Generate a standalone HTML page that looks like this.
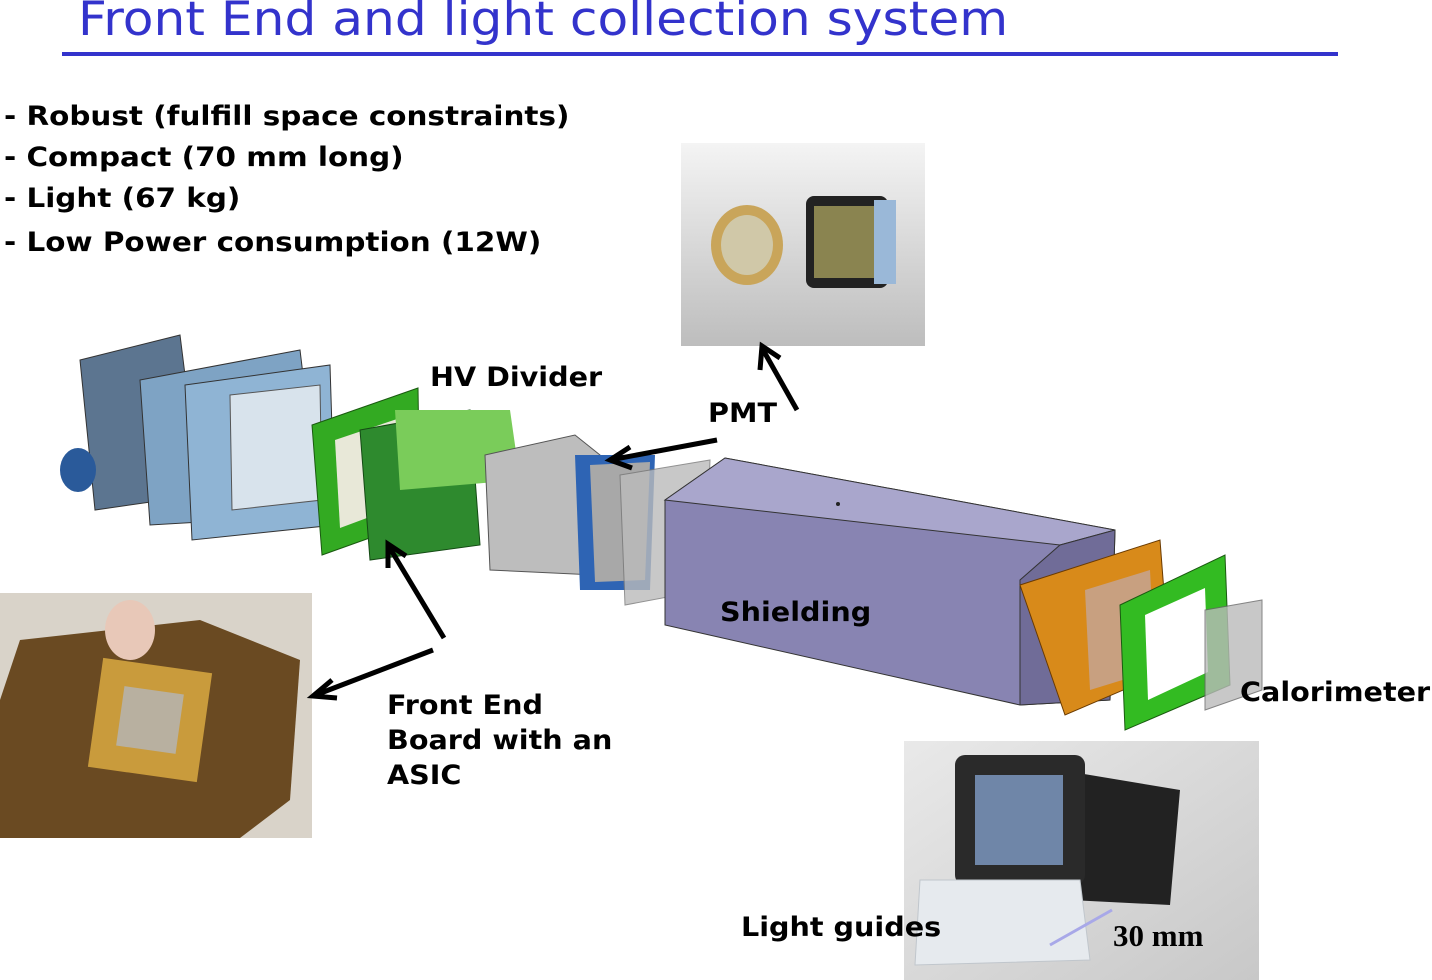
<!DOCTYPE html>
<html><head><meta charset="utf-8"><style>
body{margin:0;width:1432px;height:980px;background:#fff;overflow:hidden;position:relative;font-family:"DejaVu Sans","Liberation Sans",sans-serif}
.t{position:absolute;font-weight:bold;color:#000;white-space:nowrap;transform-origin:0 0;transform:scaleX(1.06)}
.b{transform:scaleX(1.09)}
</style></head><body>
<div style="position:absolute;left:78px;top:-8px;font-size:47px;color:#3333cc;white-space:nowrap;transform-origin:0 0;transform:scaleX(1.068)">Front End and light collection system</div>
<div style="position:absolute;left:62px;top:52px;width:1276px;height:4px;background:#3333cc"></div>
<div class="t b" style="left:4px;top:101px;font-size:27px">- Robust (fulfill space constraints)</div>
<div class="t b" style="left:4px;top:142px;font-size:27px">- Compact (70 mm long)</div>
<div class="t b" style="left:4px;top:183px;font-size:27px">- Light (67 kg)</div>
<div class="t b" style="left:4px;top:227px;font-size:27px">- Low Power consumption (12W)</div>

<svg width="1432" height="980" style="position:absolute;left:0;top:0">
<defs>
<linearGradient id="pg" x1="0" y1="0" x2="0" y2="1"><stop offset="0" stop-color="#f4f4f4"/><stop offset="1" stop-color="#bdbdbd"/></linearGradient>
<linearGradient id="pg2" x1="0" y1="0" x2="1" y2="1"><stop offset="0" stop-color="#e9e9e9"/><stop offset="1" stop-color="#c8c8c8"/></linearGradient>
</defs>
<g>
<rect x="681" y="143" width="244" height="203" fill="url(#pg)"/>
<ellipse cx="747" cy="245" rx="36" ry="40" fill="#c9a55a"/>
<ellipse cx="747" cy="245" rx="26" ry="30" fill="#d0c8a8"/>
<rect x="806" y="196" width="82" height="92" rx="8" fill="#222"/>
<rect x="814" y="206" width="60" height="72" fill="#8a8450"/>
<rect x="874" y="200" width="22" height="84" fill="#9ab8d8"/>
</g>
<g>
<rect x="0" y="593" width="312" height="245" fill="#d9d3c9"/>
<polygon points="20,640 200,620 300,660 290,800 240,838 0,838 0,700" fill="#6a4a22"/>
<rect x="95" y="665" width="110" height="110" fill="#c99b3c" transform="rotate(8 150 720)"/>
<rect x="120" y="690" width="60" height="60" fill="#b8b0a0" transform="rotate(8 150 720)"/>
<ellipse cx="130" cy="630" rx="25" ry="30" fill="#e8c8b8"/>
</g>
<g>
<rect x="904" y="741" width="355" height="239" fill="url(#pg2)"/>
<polygon points="1060,770 1180,790 1170,905 1070,900" fill="#222"/>
<rect x="955" y="755" width="130" height="130" rx="10" fill="#2a2a2a"/>
<rect x="975" y="775" width="88" height="90" fill="#6f86a8"/>
<polygon points="920,880 1080,880 1090,960 915,965" fill="#e6eaee" stroke="#c0c6cc"/>
<line x1="1050" y1="945" x2="1112" y2="910" stroke="#a8a8e8" stroke-width="3"/>
</g>
<g>
<polygon points="80,360 180,335 200,495 95,510" fill="#5c7590" stroke="#333"/>
<polygon points="140,380 300,350 320,515 150,525" fill="#7ea3c4" stroke="#333"/>
<polygon points="185,385 330,365 335,525 192,540" fill="#8fb4d4" stroke="#333"/>
<polygon points="230,395 320,385 322,500 232,510" fill="#d8e3ec" stroke="#555"/>
<ellipse cx="78" cy="470" rx="18" ry="22" fill="#2a5a9a"/>
</g>
<g>
<polygon points="312,425 418,388 420,520 322,555" fill="#33aa22" stroke="#1a5a10"/>
<polygon points="335,440 400,418 402,505 340,528" fill="#e8e8d8"/>
<polygon points="360,430 470,410 480,545 370,560" fill="#2e8a2e" stroke="#144a14"/>
<polygon points="395,410 510,410 520,480 400,490" fill="#7acc5a"/>
<polygon points="485,455 575,435 600,455 595,575 490,570" fill="#bdbdbd" stroke="#555"/>
<polygon points="575,455 655,455 650,590 580,590" fill="#2e64b4"/>
<polygon points="590,465 650,462 645,580 595,582" fill="#a8a8a8"/>
</g>
<polygon points="620,475 710,460 705,590 625,605" fill="#bbb" stroke="#777" opacity="0.8"/>
<g>
<polygon points="665,500 725,458 1115,530 1110,700 1020,705 665,625" fill="#8884b2" stroke="#333"/>
<polygon points="665,500 725,458 1115,530 1060,545" fill="#a9a6cc" stroke="#333"/>
<polygon points="1060,545 1115,530 1110,700 1020,705 1020,580" fill="#706c98" stroke="#333"/>
<circle cx="838" cy="504" r="2" fill="#222"/>
</g>
<g>
<polygon points="1020,585 1160,540 1170,670 1065,715" fill="#d88a1a" stroke="#6a3a00"/>
<polygon points="1085,590 1150,570 1155,670 1090,690" fill="#c8a080"/>
<polygon points="1120,605 1225,555 1230,685 1125,730" fill="#33bb22" stroke="#1a5a10"/>
<polygon points="1145,615 1205,588 1208,672 1148,700" fill="#fff"/>
<polygon points="1205,610 1262,600 1262,690 1205,710" fill="#bbb" stroke="#666" opacity="0.8"/>
</g>
<g stroke="#000" stroke-width="5" fill="none">
<line x1="797" y1="410" x2="762" y2="348"/><polyline points="760,370 762,346 780,358"/>
<line x1="717" y1="440" x2="610" y2="460"/><polyline points="630,447 610,460 632,468"/>
<line x1="444" y1="638" x2="388" y2="545"/><polyline points="388,568 388,544 406,556"/>
<line x1="433" y1="650" x2="313" y2="696"/><polyline points="332,680 313,696 337,698"/>
</g>
</svg>

<div class="t" style="left:430px;top:362px;font-size:27px">HV Divider</div>
<div class="t" style="left:708px;top:398px;font-size:27px">PMT</div>
<div class="t" style="left:720px;top:597px;font-size:27px">Shielding</div>
<div class="t" style="left:387px;top:688px;font-size:27px;line-height:35px">Front End<br>Board with an<br>ASIC</div>
<div class="t" style="left:1240px;top:677px;font-size:27px">Calorimeter</div>
<div class="t" style="left:741px;top:912px;font-size:27px">Light guides</div>
<div class="t" style="left:1113px;top:918px;font-size:31px;font-family:'Liberation Serif',serif;transform:none">30 mm</div>
</body></html>
